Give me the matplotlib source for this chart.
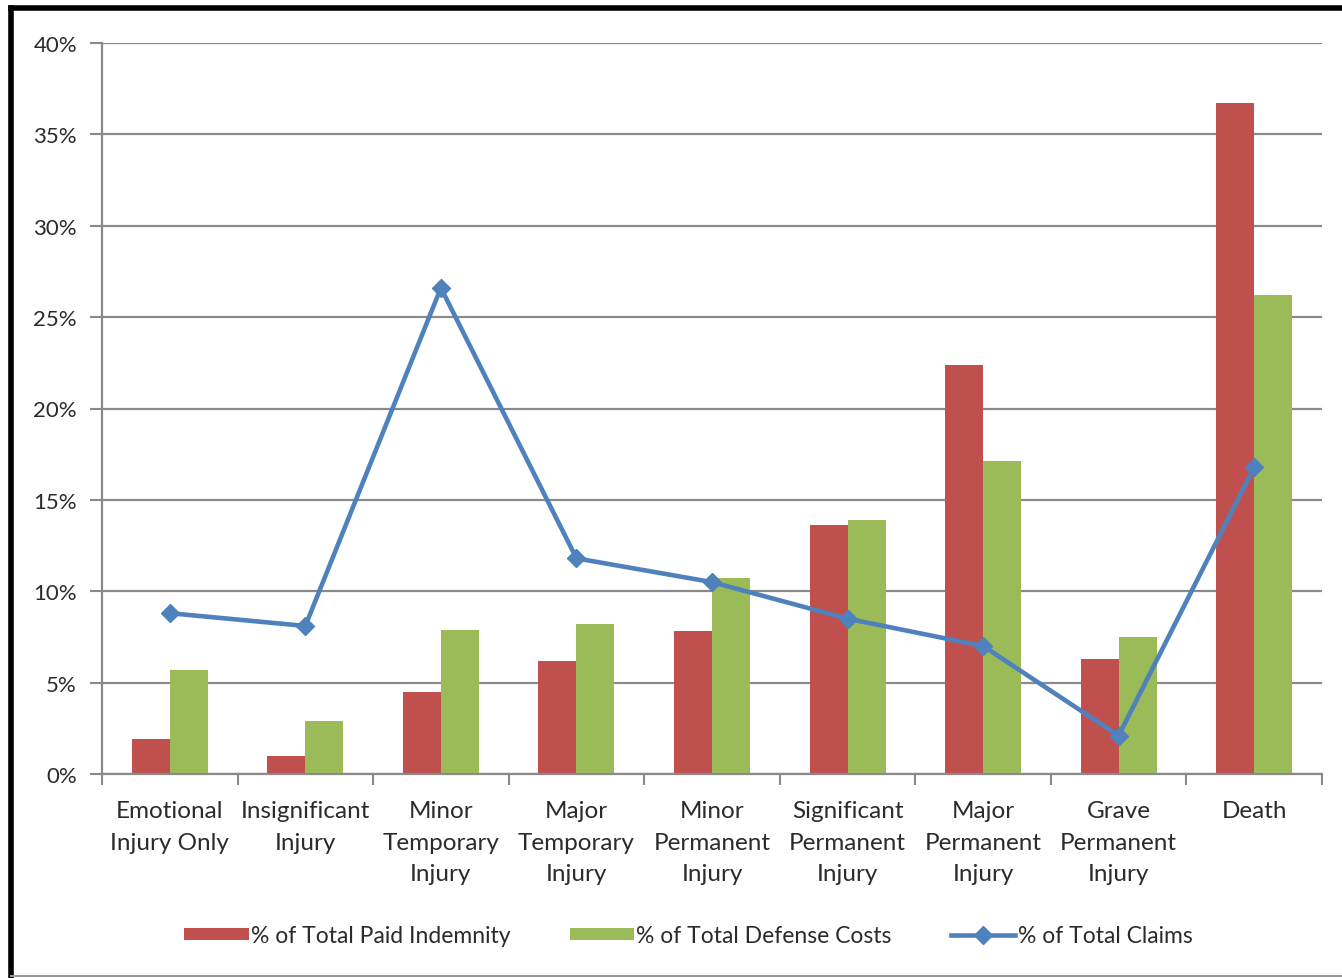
import matplotlib.pyplot as plt
import numpy as np
from matplotlib.lines import Line2D
from matplotlib.ticker import PercentFormatter

plt.rcParams['font.family'] = ['Lato', 'DejaVu Sans']

categories = ["Emotional\nInjury Only", "Insignificant\nInjury", "Minor\nTemporary\nInjury",
              "Major\nTemporary\nInjury", "Minor\nPermanent\nInjury", "Significant\nPermanent\nInjury",
              "Major\nPermanent\nInjury", "Grave\nPermanent\nInjury", "Death"]
paid_indemnity = [1.9, 1.0, 4.5, 6.2, 7.8, 13.6, 22.4, 6.3, 36.7]
defense_costs = [5.7, 2.9, 7.9, 8.2, 10.7, 13.9, 17.1, 7.5, 26.2]
total_claims = [8.8, 8.1, 26.6, 11.8, 10.5, 8.5, 7.0, 2.1, 16.8]

RED = "#C0504D"
GREEN = "#9BBB59"
BLUE = "#4F81BD"
GRID = "#8a8a8a"
TXT = "#2b2b2b"

fig = plt.figure(figsize=(13.42, 9.79), dpi=100)
ax = fig.add_axes([102/1342, 1-775/979, 1220/1342, 731/979])

x = np.arange(len(categories))
w = 0.28
b1 = ax.bar(x - w/2, paid_indemnity, w, color=RED, label="% of Total Paid Indemnity", zorder=2)
b2 = ax.bar(x + w/2, defense_costs, w, color=GREEN, label="% of Total Defense Costs", zorder=2)
l1, = ax.plot(x, total_claims, color=BLUE, lw=3.3, marker="D", ms=9, label="% of Total Claims", zorder=3)

ax.set_xlim(-0.5, len(categories) - 0.5)
ax.set_ylim(0, 40)
ax.set_yticks(np.arange(0, 41, 5))
ax.yaxis.set_major_formatter(PercentFormatter(decimals=0))
ax.yaxis.grid(True, color=GRID, lw=1.6, zorder=0)
ax.set_axisbelow(True)

ax.set_xticks(x)
ax.set_xticklabels(categories, fontsize=17.5, color=TXT, linespacing=1.62)
ax.set_xticks(np.arange(-0.5, len(categories)), minor=True)
ax.tick_params(axis="x", which="major", length=0, pad=19)
ax.tick_params(axis="x", which="minor", length=8, width=1.5, color=GRID)
ax.tick_params(axis="y", length=9, width=1.5, color=GRID, labelsize=16, labelcolor=TXT, pad=9)

for s in ["top", "right"]:
    ax.spines[s].set_visible(False)
for s in ["left", "bottom"]:
    ax.spines[s].set_color(GRID)
    ax.spines[s].set_linewidth(1.6)

fig.legend([b1, b2, l1], [b1.get_label(), b2.get_label(), l1.get_label()],
           loc="center", bbox_to_anchor=(0.513, 1-937/979), ncol=3, frameon=False,
           fontsize=16.5, handlelength=2.8, handleheight=0.45, handletextpad=0.1,
           columnspacing=2.6, labelcolor=TXT)

# outer frame of the original screenshot
fig.add_artist(Line2D([11/1342, 11/1342], [0, 1-9/979], color="black", lw=4, transform=fig.transFigure))
fig.add_artist(Line2D([11/1342, 1], [1-9/979, 1-9/979], color="black", lw=4, transform=fig.transFigure))
fig.add_artist(Line2D([11/1342, 1], [1-977/979, 1-977/979], color="#999999", lw=1.5, transform=fig.transFigure))

fig.savefig("out.png", dpi=100)
